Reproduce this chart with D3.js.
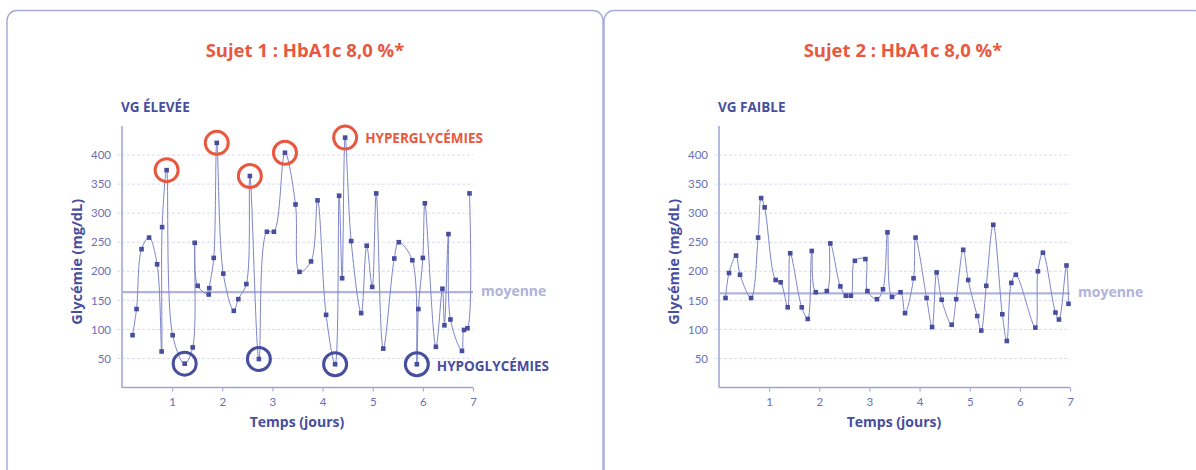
<!DOCTYPE html>
<html>
<head>
<meta charset="utf-8">
<script src="https://cdn.jsdelivr.net/npm/d3@7"></script>
<style>
  body { margin: 0; background: #fff; }
  svg { display: block; font-family: "Open Sans", Lato, sans-serif; }
</style>
</head>
<body>
<svg width="1196" height="470"></svg>
<script>
// ---- data ----
var s1Days = [0.21, 0.29, 0.39, 0.54, 0.70, 0.79, 0.80, 0.89, 1.01, 1.25, 1.41, 1.45, 1.51, 1.73, 1.74, 1.83, 1.89, 2.02, 2.23, 2.32, 2.48, 2.55, 2.73, 2.89, 3.03, 3.25, 3.46, 3.54, 3.77, 3.90, 4.07, 4.25, 4.33, 4.39, 4.45, 4.57, 4.77, 4.88, 4.99, 5.07, 5.21, 5.43, 5.52, 5.79, 5.88, 5.91, 6.00, 6.04, 6.26, 6.39, 6.43, 6.51, 6.55, 6.78, 6.82, 6.89, 6.93];
var s1Values = [90, 135, 238, 258, 212, 62, 276, 374, 90, 41, 69, 249, 175, 160, 171, 223, 421, 196, 132, 152, 178, 364, 49, 268, 268, 404, 315, 199, 217, 322, 125, 40, 330, 188, 430, 252, 128, 244, 173, 334, 67, 222, 250, 219, 40, 135, 223, 317, 70, 170, 107, 264, 117, 63, 99, 102, 334];
var s1Mean = 164;
var s1Hyper = [0.89, 1.89, 2.55, 3.25, 4.45];
var s1Hypo = [1.25, 2.73, 4.25, 5.88];

var s2Days = [0.13, 0.20, 0.34, 0.42, 0.64, 0.78, 0.84, 0.91, 1.13, 1.23, 1.37, 1.42, 1.65, 1.77, 1.85, 1.93, 2.15, 2.22, 2.42, 2.53, 2.63, 2.71, 2.92, 2.96, 3.15, 3.27, 3.36, 3.45, 3.62, 3.71, 3.88, 3.92, 4.14, 4.25, 4.34, 4.44, 4.64, 4.73, 4.87, 4.97, 5.15, 5.23, 5.33, 5.47, 5.65, 5.74, 5.83, 5.92, 6.31, 6.36, 6.46, 6.71, 6.78, 6.93, 6.97];
var s2Values = [154, 197, 227, 194, 154, 258, 326, 310, 185, 181, 138, 231, 138, 118, 235, 164, 166, 248, 174, 158, 158, 218, 221, 166, 152, 169, 267, 156, 164, 128, 188, 258, 154, 104, 198, 151, 108, 152, 237, 185, 123, 98, 175, 280, 126, 80, 180, 194, 103, 200, 232, 129, 117, 210, 144];
var s2Mean = 162;

var yTicks = [50, 100, 150, 200, 250, 300, 350, 400];
var xTicks = [1, 2, 3, 4, 5, 6, 7];

var titles = ["Sujet 1 : HbA1c 8,0 %*", "Sujet 2 : HbA1c 8,0 %*"];
var subtitles = ["VG ÉLEVÉE", "VG FAIBLE"];

// ---- colours ----
var red = "#e9573f", navy = "#474e9e", tickCol = "#6a70b6",
    lineCol = "#7e84c8", axisCol = "#9ea2d4", gridCol = "#d9dbf0",
    meanCol = "#b0b3dc", frameCol = "#a9acda";

var svg = d3.select("svg");

// panel frames
svg.append("rect").attr("x", 7).attr("y", 10.5).attr("width", 596).attr("height", 480)
  .attr("rx", 10).attr("fill", "none").attr("stroke", frameCol).attr("stroke-width", 1.5);
svg.append("rect").attr("x", 604).attr("y", 10.5).attr("width", 600).attr("height", 480)
  .attr("rx", 10).attr("fill", "none").attr("stroke", frameCol).attr("stroke-width", 1.5);

function drawChart(left, days, values, mean, title, subtitle, titleX) {
  var w = 351, top = 126, bottom = 387.5;
  var x = d3.scaleLinear().domain([0, 7]).range([0, w]);
  var y = d3.scaleLinear().domain([0, 450]).range([bottom - top, 0]);
  var g = svg.append("g").attr("transform", "translate(" + left + "," + top + ")");
  var pts = days.map((d, i) => ({ day: d, v: values[i] }));

  svg.append("text").attr("x", titleX).attr("y", 57).attr("text-anchor", "middle")
    .attr("fill", red).attr("font-weight", 700).attr("font-size", 18.5).text(title);
  svg.append("text").attr("x", left - 1).attr("y", 112)
    .attr("fill", navy).attr("font-weight", 700).attr("font-size", 13.5).text(subtitle);

  // grid
  g.selectAll(".grid").data(yTicks).enter().append("line")
    .attr("x1", -5).attr("x2", w).attr("y1", d => y(d)).attr("y2", d => y(d))
    .attr("stroke", gridCol).attr("stroke-dasharray", "3,2");

  // axes
  var yAxis = g.append("g").call(d3.axisLeft(y).tickValues(yTicks).tickSize(0).tickPadding(11));
  var xAxis = g.append("g").attr("transform", "translate(0," + y(0) + ")")
    .call(d3.axisBottom(x).tickValues(xTicks).tickFormat(d3.format("d")).tickSize(4).tickPadding(6));
  [yAxis, xAxis].forEach(a => {
    a.select(".domain").remove();
    a.selectAll("text").attr("fill", tickCol).attr("font-size", 11.5)
      .attr("font-family", "Lato, sans-serif");
    a.selectAll("line").attr("stroke", axisCol);
  });
  g.append("line").attr("x1", 0).attr("x2", 0).attr("y1", 0).attr("y2", y(0))
    .attr("stroke", axisCol).attr("stroke-width", 1.5);
  g.append("line").attr("x1", 0).attr("x2", w).attr("y1", y(0)).attr("y2", y(0))
    .attr("stroke", axisCol).attr("stroke-width", 1.5);

  // mean line
  g.append("line").attr("x1", 0).attr("x2", w).attr("y1", y(mean)).attr("y2", y(mean))
    .attr("stroke", meanCol).attr("stroke-width", 2.2);
  g.append("text").attr("x", w + 8).attr("y", y(mean) + 4)
    .attr("fill", meanCol).attr("font-weight", 700).attr("font-size", 14).text("moyenne");

  // series
  var line = d3.line().x(d => x(d.day)).y(d => y(d.v)).curve(d3.curveCatmullRom.alpha(0.5));
  g.append("path").datum(pts).attr("d", line).attr("fill", "none")
    .attr("stroke", lineCol).attr("stroke-width", 1);
  g.selectAll(".pt").data(pts).enter().append("rect")
    .attr("x", d => x(d.day) - 2.3).attr("y", d => y(d.v) - 2.3)
    .attr("width", 4.6).attr("height", 4.6).attr("fill", navy);

  // axis titles
  svg.append("text").attr("transform", "translate(" + (left - 40) + "," + (top + (bottom - top) / 2 + 5) + ") rotate(-90)")
    .attr("text-anchor", "middle").attr("fill", navy).attr("font-weight", 700).attr("font-size", 14.5)
    .text("Glycémie (mg/dL)");
  svg.append("text").attr("x", left + 175).attr("y", 427).attr("text-anchor", "middle")
    .attr("fill", navy).attr("font-weight", 700).attr("font-size", 14).text("Temps (jours)");

  return { g: g, x: x, y: y, pts: pts, w: w };
}

var c1 = drawChart(122, s1Days, s1Values, s1Mean, titles[0], subtitles[0], 305);
var c2 = drawChart(719, s2Days, s2Values, s2Mean, titles[1], subtitles[1], 903);

// annotations on subject 1
function circles(c, daysSel, color) {
  var sel = c.pts.filter(p => daysSel.indexOf(p.day) >= 0);
  c.g.selectAll(null).data(sel).enter().append("circle")
    .attr("cx", d => c.x(d.day)).attr("cy", d => c.y(d.v)).attr("r", 11.5)
    .attr("fill", "none").attr("stroke", color).attr("stroke-width", 3);
  return sel;
}
var hy = circles(c1, s1Hyper, red);
var ho = circles(c1, s1Hypo, navy);
var lastHyper = hy[hy.length - 1], lastHypo = ho[ho.length - 1];
c1.g.append("text").attr("x", c1.x(lastHyper.day) + 20).attr("y", c1.y(lastHyper.v) + 5)
  .attr("fill", red).attr("font-weight", 700).attr("font-size", 13.5).text("HYPERGLYCÉMIES");
c1.g.append("text").attr("x", c1.x(lastHypo.day) + 20).attr("y", c1.y(lastHypo.v) + 7)
  .attr("fill", navy).attr("font-weight", 700).attr("font-size", 13.5).text("HYPOGLYCÉMIES");
</script>
</body>
</html>
